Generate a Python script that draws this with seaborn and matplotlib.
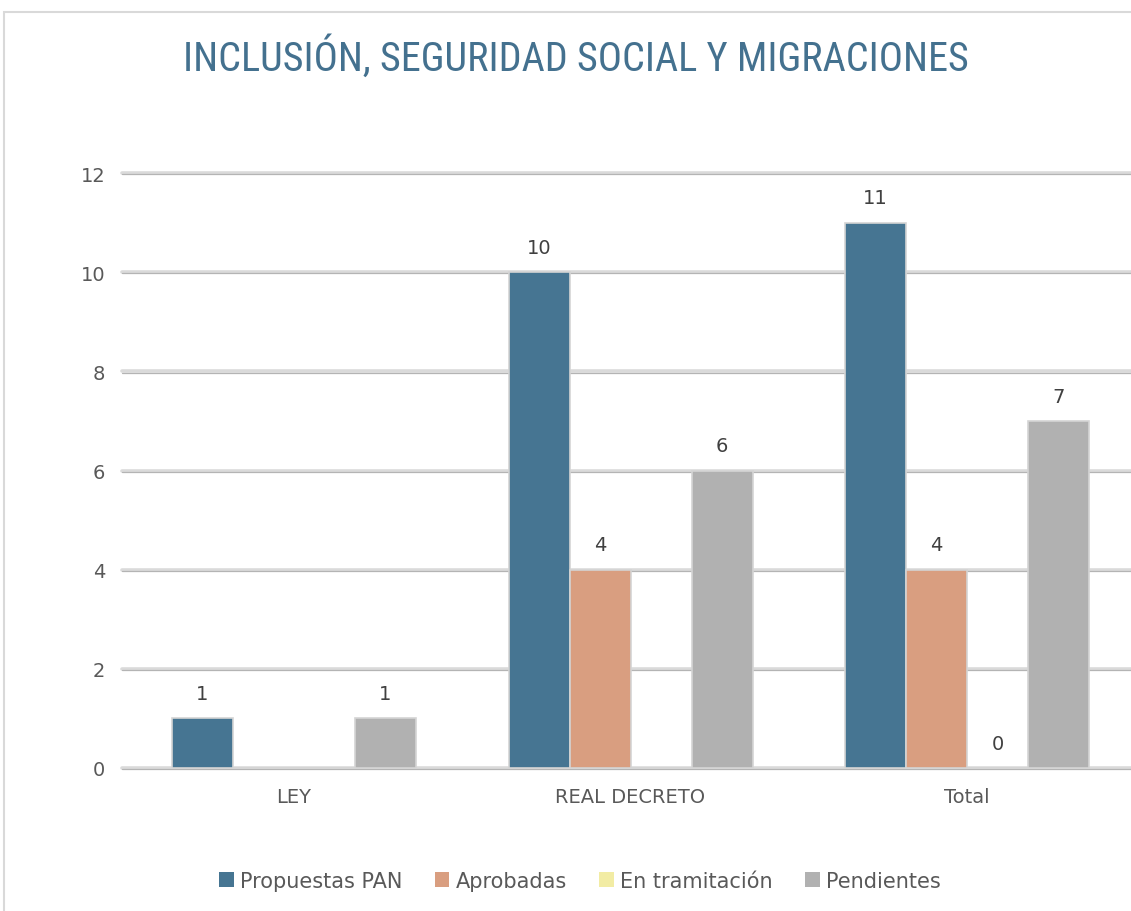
import matplotlib
matplotlib.use("Agg")
import matplotlib.pyplot as plt
import matplotlib.transforms as mtransforms
from matplotlib import font_manager
import seaborn as sns
import pandas as pd
from matplotlib.patches import Rectangle, Patch

categories = ["LEY", "REAL DECRETO", "Total"]
series = ["Propuestas PAN", "Aprobadas", "En tramitación", "Pendientes"]
propuestas = [1, 10, 11]
aprobadas = [None, 4, 4]
en_tramitacion = [None, None, 0]
pendientes = [1, 6, 7]
colors = ["#467592", "#d99e80", "#f2eca4", "#b1b1b1"]
title = "INCLUSIÓN, SEGURIDAD SOCIAL Y MIGRACIONES"
yticks = [0, 2, 4, 6, 8, 10, 12]

sns.set_theme(style="white")
plt.rcParams["font.family"] = ["DejaVu Sans"]

installed = {f.name for f in font_manager.fontManager.ttflist}
narrow_pref = ["Liberation Sans Narrow", "DejaVu Sans Condensed", "Roboto Condensed", "Roboto"]
narrow = [f for f in narrow_pref if f in installed] + ["DejaVu Sans"]
title_font = narrow[0]
title_size = {"Liberation Sans Narrow": 27, "DejaVu Sans Condensed": 25,
              "Roboto Condensed": 29, "Roboto": 24}.get(title_font, 23)

values = {s: v for s, v in zip(series, [propuestas, aprobadas, en_tramitacion, pendientes])}
rows = []
for s in series:
    for c, v in zip(categories, values[s]):
        rows.append({"cat": c, "serie": s, "val": 0 if v is None else v})
df = pd.DataFrame(rows)

fig = plt.figure(figsize=(11.31, 9.12), dpi=100)
ax = fig.add_axes([122 / 1131, 1 - 769 / 912, 1 - 122 / 1131, (769 - 174) / 912])

sns.barplot(data=df, x="cat", y="val", hue="serie", order=categories, hue_order=series,
            palette=colors, saturation=1, width=0.725, gap=0, edgecolor="#d4d4d4",
            linewidth=1.2, ax=ax, legend=False, zorder=3)

ax.set_ylim(0, 12)
ax.set_xlim(-0.511, 2.487)
ax.set_yticks(yticks)
ax.grid(False)
off = mtransforms.offset_copy(ax.get_yaxis_transform(), fig=fig, x=0, y=-1.2, units="dots")
for yv in yticks:
    ax.axhline(yv, color="#dadada", linewidth=2.6, zorder=1, clip_on=False)
    ax.plot([0, 1], [yv, yv], color="#b4b4b4", linewidth=0.9, zorder=1.1,
            transform=off, clip_on=False)
for sp in ax.spines.values():
    sp.set_visible(False)
ax.tick_params(axis="both", length=0, labelsize=14, labelcolor="#595959")
ax.tick_params(axis="y", pad=12)
ax.tick_params(axis="x", pad=14)
ax.set_xlabel("")
ax.set_ylabel("")

for s, cont in zip(series, ax.containers):
    for bar, v in zip(cont.patches, values[s]):
        if v is None:
            continue
        ax.annotate(str(v), (bar.get_x() + bar.get_width() / 2, bar.get_height()),
                    xytext=(0, 11), textcoords="offset points", ha="center", va="bottom",
                    fontsize=14, color="#404040")

fig.text(576 / 1131, 1 - 57 / 912, title, ha="center", va="center", fontsize=title_size,
         color="#44718f", family=narrow)

handles = [Patch(facecolor=c, edgecolor="none") for c in colors]
fig.legend(handles, series, loc="center", bbox_to_anchor=(580 / 1131, 1 - 882 / 912),
           ncol=4, frameon=False, labelcolor="#595959",
           handlelength=0.7, handleheight=0.7, handletextpad=0.3, columnspacing=1.55,
           prop={"size": 15})

fig.patches.append(Rectangle((4 / 1131, -0.1), 1.2, 1.1 - 13 / 912, transform=fig.transFigure,
                             fill=False, edgecolor="#d9d9d9", linewidth=1.5))

fig.savefig("out.png", dpi=100)
